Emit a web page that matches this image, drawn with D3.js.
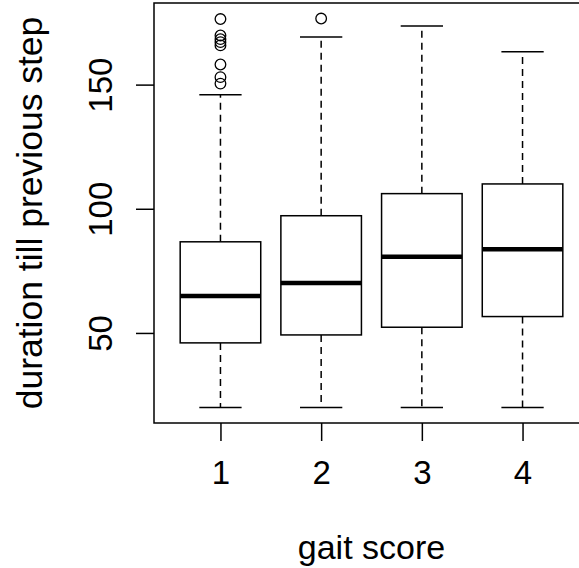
<!DOCTYPE html>
<html>
<head>
<meta charset="utf-8">
<script src="https://cdn.jsdelivr.net/npm/d3@7"></script>
<style>
  body { margin: 0; background: #fff; }
  text { font-family: "Liberation Sans", Arial, sans-serif; fill: #000; }
</style>
</head>
<body>
<div id="plot"></div>
<script>
var categories = ["1", "2", "3", "4"];
var lowerWhisker = [20, 20, 20, 20];
var q1 = [46.0, 49.2, 52.3, 56.6];
var medians = [64.9, 70.1, 80.7, 83.7];
var q3 = [86.7, 97.2, 106.1, 110.0];
var upperWhisker = [145.9, 169.2, 173.6, 163.2];
var outliers = [
  [176.4, 169.8, 168.3, 167.1, 165.8, 158.1, 153.0, 150.4],
  [176.6],
  [],
  []
];
var yTicks = [50, 100, 150];

var width = 579, height = 568;
var plot = {left: 154, right: 589, top: 3, bottom: 423};

var svg = d3.select("#plot")
  .append("svg")
  .attr("width", width)
  .attr("height", height);

var x = d3.scaleLinear()
  .domain([0.34, 4.66])
  .range([plot.left, plot.right]);

// R style limits: data range padded by 4%
var allVals = lowerWhisker.concat(upperWhisker, d3.merge(outliers));
var lo = d3.min(allVals), hi = d3.max(allVals);
var pad = (hi - lo) * 0.04;
var y = d3.scaleLinear()
  .domain([lo - pad, hi + pad])
  .range([plot.bottom, plot.top]);

var boxW = 0.8, capW = 0.42;

var data = categories.map(function(c, i) {
  return {pos: i + 1, label: c, lw: lowerWhisker[i], q1: q1[i], med: medians[i],
          q3: q3[i], uw: upperWhisker[i], out: outliers[i]};
});

var g = svg.append("g");

// whiskers (dashed)
g.selectAll(".whisk-up")
  .data(data).enter()
  .append("line")
  .attr("x1", function(d) { return x(d.pos); })
  .attr("x2", function(d) { return x(d.pos); })
  .attr("y1", function(d) { return y(d.q3); })
  .attr("y2", function(d) { return y(d.uw); })
  .attr("stroke", "#000").attr("stroke-width", 1.5)
  .attr("stroke-dasharray", "7,5");

g.selectAll(".whisk-lo")
  .data(data).enter()
  .append("line")
  .attr("x1", function(d) { return x(d.pos); })
  .attr("x2", function(d) { return x(d.pos); })
  .attr("y1", function(d) { return y(d.q1); })
  .attr("y2", function(d) { return y(d.lw); })
  .attr("stroke", "#000").attr("stroke-width", 1.5)
  .attr("stroke-dasharray", "7,5");

// caps
["uw", "lw"].forEach(function(k) {
  g.selectAll(".cap-" + k)
    .data(data).enter()
    .append("line")
    .attr("x1", function(d) { return x(d.pos - capW / 2); })
    .attr("x2", function(d) { return x(d.pos + capW / 2); })
    .attr("y1", function(d) { return y(d[k]); })
    .attr("y2", function(d) { return y(d[k]); })
    .attr("stroke", "#000").attr("stroke-width", 1.5);
});

// boxes
g.selectAll(".box")
  .data(data).enter()
  .append("rect")
  .attr("x", function(d) { return x(d.pos - boxW / 2); })
  .attr("width", function(d) { return x(d.pos + boxW / 2) - x(d.pos - boxW / 2); })
  .attr("y", function(d) { return y(d.q3); })
  .attr("height", function(d) { return y(d.q1) - y(d.q3); })
  .attr("fill", "#fff")
  .attr("stroke", "#000").attr("stroke-width", 1.5);

// medians
g.selectAll(".med")
  .data(data).enter()
  .append("line")
  .attr("x1", function(d) { return x(d.pos - boxW / 2); })
  .attr("x2", function(d) { return x(d.pos + boxW / 2); })
  .attr("y1", function(d) { return y(d.med); })
  .attr("y2", function(d) { return y(d.med); })
  .attr("stroke", "#000").attr("stroke-width", 4.5);

// outliers
var outPts = [];
data.forEach(function(d) {
  d.out.forEach(function(v) { outPts.push({pos: d.pos, v: v}); });
});
g.selectAll(".out")
  .data(outPts).enter()
  .append("circle")
  .attr("cx", function(d) { return x(d.pos); })
  .attr("cy", function(d) { return y(d.v); })
  .attr("r", 5.3)
  .attr("fill", "none")
  .attr("stroke", "#000").attr("stroke-width", 1.3);

// frame (right edge runs off the page)
svg.append("rect")
  .attr("x", plot.left).attr("y", plot.top)
  .attr("width", plot.right - plot.left)
  .attr("height", plot.bottom - plot.top)
  .attr("fill", "none")
  .attr("stroke", "#000").attr("stroke-width", 1.5);

// x axis
var xAxis = svg.append("g")
  .attr("transform", "translate(0," + plot.bottom + ")")
  .call(d3.axisBottom(x).tickValues([1, 2, 3, 4])
    .tickFormat(function(d) { return categories[d - 1]; })
    .tickSize(18).tickPadding(20));
xAxis.select(".domain").remove();
xAxis.selectAll("line").attr("stroke", "#000").attr("stroke-width", 1.5);
xAxis.selectAll("text")
  .attr("font-family", "Liberation Sans, Arial, sans-serif")
  .attr("font-size", 33).attr("fill", "#000");

// y axis
var yAxis = svg.append("g")
  .attr("transform", "translate(" + plot.left + ",0)")
  .call(d3.axisLeft(y).tickValues(yTicks).tickSize(18).tickFormat(d3.format("d")));
yAxis.select(".domain").remove();
yAxis.selectAll("line").attr("stroke", "#000").attr("stroke-width", 1.5);
yAxis.selectAll("text")
  .attr("font-family", "Liberation Sans, Arial, sans-serif")
  .attr("font-size", 33).attr("fill", "#000")
  .attr("x", null).attr("dy", null)
  .attr("text-anchor", "middle")
  .attr("transform", "translate(-42,0) rotate(-90)");

// axis titles
svg.append("text")
  .attr("x", (plot.left + plot.right) / 2)
  .attr("y", 559)
  .attr("text-anchor", "middle")
  .style("font-size", "34px")
  .text("gait score");

svg.append("text")
  .attr("transform", "translate(42," + ((plot.top + plot.bottom) / 2) + ") rotate(-90)")
  .attr("text-anchor", "middle")
  .style("font-size", "35.5px")
  .text("duration till previous step");
</script>
</body>
</html>
